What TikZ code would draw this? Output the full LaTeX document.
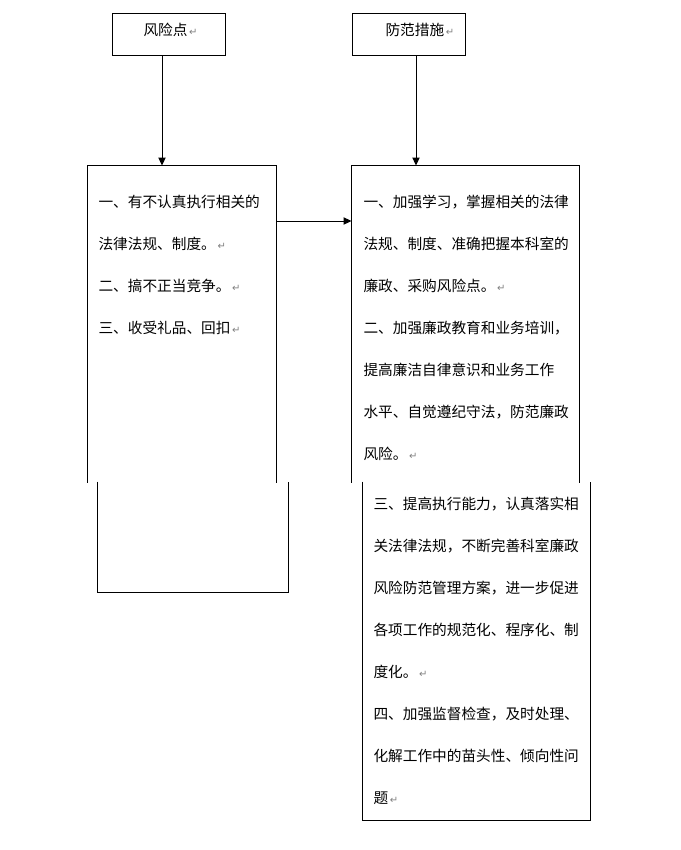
\documentclass[tikz,border=0pt]{standalone}
\usepackage{fontspec}
\newfontfamily\cjk{Noto Sans CJK SC}
\newfontfamily\symf{DejaVu Sans}
\usetikzlibrary{arrows.meta}
\newcommand\retmark{{\symf\color{gray}\fontsize{7.5pt}{8pt}\selectfont\,↵}}
\begin{document}
\begin{tikzpicture}[x=.75pt,y=-.75pt,line width=.75pt,
  hdbox/.style={draw,minimum width=85pt,minimum height=32pt,inner sep=0pt},
  frame/.style={draw=none,inner sep=0pt},
  ln/.style={anchor=west,inner sep=0pt,font=\cjk\fontsize{11pt}{13pt}\selectfont},
  arr/.style={-{Triangle[length=6pt,width=5.5pt]}}]
\useasboundingbox (0,0) rectangle (681,850);
% top boxes
\node[hdbox] (risk) at (169,34.5) {};\node[ln] (risklab) at (143,30) {风险点\retmark};
\node[hdbox] (meas) at (409,34.5) {};\node[ln] (measlab) at (385,30) {防范措施\retmark};
% left frame, split in two parts
\node[frame,minimum width=141pt,minimum height=237pt] (riskA) at (182,324) {};
\node[frame,minimum width=142.5pt,minimum height=82.5pt] (riskB) at (193,537) {};
\draw (riskA.south west)--(riskA.north west)--(riskA.north east)--(riskA.south east);
\draw (riskB.north west)--(riskB.south west)--(riskB.south east)--(riskB.north east);
% right frame, split in two parts
\node[frame,minimum width=170.25pt,minimum height=237pt] (measA) at (465.5,324) {};
\node[frame,minimum width=170.25pt,minimum height=253.5pt] (measB) at (476.5,651) {};
\draw (measA.south west)--(measA.north west)--(measA.north east)--(measA.south east);
\draw (measB.north west)--(measB.south west)--(measB.south east)--(measB.north east);
% arrows
\coordinate (rx) at (162,0);\coordinate (mx) at (416,0);\coordinate (lk) at (0,221);
\draw[arr] (risk.south -| rx) -- (riskA.north -| rx);
\draw[arr] (meas.south -| mx) -- (measA.north -| mx);
\draw[arr] (riskA.east |- lk) -- (measA.west |- lk);
% texts
\foreach \t [count=\i] in {一、有不认真执行相关的,法律法规、制度。\retmark,二、搞不正当竞争。\retmark,三、收受礼品、回扣\retmark}
  \node[ln] (r\i) at (98,{202+42*(\i-1)}) {\t};
\foreach \t [count=\i] in {一、加强学习，掌握相关的法律,法规、制度、准确把握本科室的,廉政、采购风险点。\retmark,二、加强廉政教育和业务培训，,提高廉洁自律意识和业务工作,水平、自觉遵纪守法，防范廉政,风险。\retmark}
  \node[ln] (m\i) at (363,{202+42*(\i-1)}) {\t};
\foreach \t [count=\i] in {三、提高执行能力，认真落实相,关法律法规，不断完善科室廉政,风险防范管理方案，进一步促进,各项工作的规范化、程序化、制,度化。\retmark,四、加强监督检查，及时处理、,化解工作中的苗头性、倾向性问,题\retmark}
  \node[ln] (n\i) at (373,{504+42*(\i-1)}) {\t};
\end{tikzpicture}
\end{document}
